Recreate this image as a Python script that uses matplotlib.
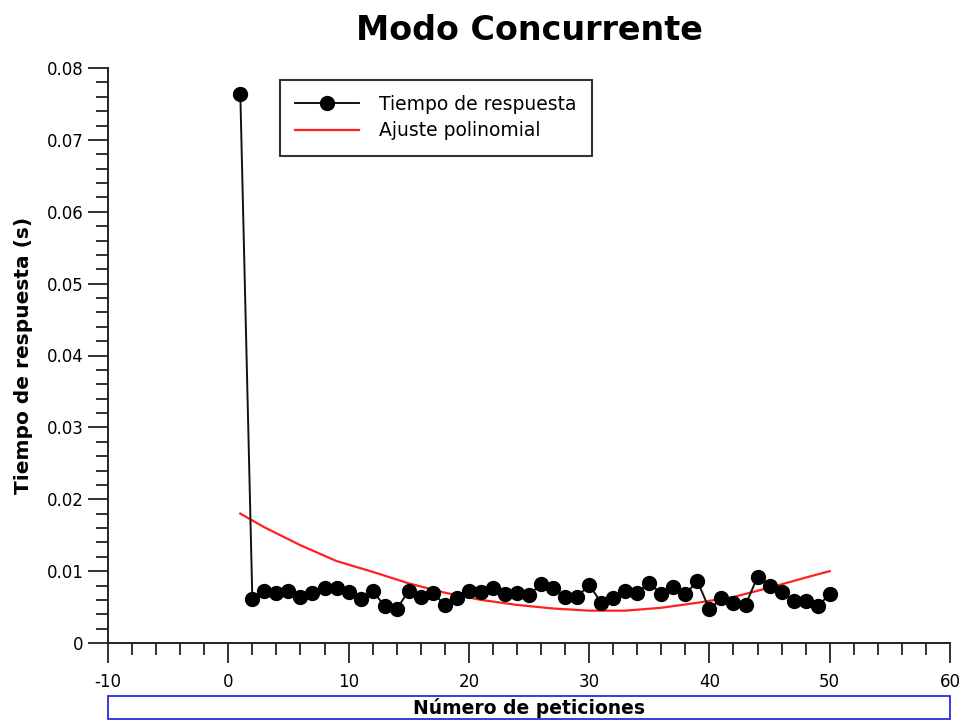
import numpy as np
import matplotlib
matplotlib.use("Agg")
import matplotlib.pyplot as plt
from matplotlib.patches import Rectangle
from matplotlib.ticker import MultipleLocator

plt.rcParams["axes.unicode_minus"] = False

# response time per request (s)
peticiones = list(range(1, 51))
tiempo = [0.0764, 0.0061, 0.0072, 0.0069, 0.0072, 0.0064, 0.0070, 0.0076, 0.0076, 0.0071,
          0.0061, 0.0073, 0.0051, 0.0047, 0.0073, 0.0064, 0.0070, 0.0053, 0.0062, 0.0073,
          0.0071, 0.0076, 0.0068, 0.0069, 0.0067, 0.0082, 0.0077, 0.0064, 0.0064, 0.0081,
          0.0056, 0.0062, 0.0072, 0.0070, 0.0084, 0.0068, 0.0078, 0.0068, 0.0086, 0.0047,
          0.0062, 0.0056, 0.0053, 0.0092, 0.0079, 0.0071, 0.0059, 0.0059, 0.0051, 0.0068]

# polynomial fit curve
ajuste_x = [1, 3, 6, 9, 12, 15, 18, 21, 24, 27, 30, 33, 36, 39, 42, 45, 48, 50]
ajuste_y = [0.0180, 0.0161, 0.0136, 0.0114, 0.0099, 0.0083, 0.0070, 0.0060, 0.0053,
            0.0048, 0.0045, 0.0045, 0.0049, 0.0056, 0.0064, 0.0077, 0.0091, 0.0100]

fig = plt.figure(figsize=(9.6, 7.2), dpi=100)
ax = fig.add_axes([108 / 960, 1 - 643 / 720, (950 - 108) / 960, (643 - 68) / 720])

ax.plot(peticiones, tiempo, color="#111111", lw=1.4, marker="o", ms=10,
        mfc="black", mec="black", label="Tiempo de respuesta", zorder=3)
ax.plot(ajuste_x, ajuste_y, color="#ff2020", lw=1.6, label="Ajuste polinomial", zorder=2)

ax.set_xlim(-10, 60)
ax.set_ylim(0, 0.08)
ax.xaxis.set_major_locator(MultipleLocator(10))
ax.xaxis.set_minor_locator(MultipleLocator(2))
ax.yaxis.set_major_locator(MultipleLocator(0.01))
ax.yaxis.set_minor_locator(MultipleLocator(0.002))
ax.yaxis.set_major_formatter(plt.FuncFormatter(lambda v, p: "0" if v == 0 else f"{v:.2f}"))

for s in ("top", "right"):
    ax.spines[s].set_visible(False)
for s in ("left", "bottom"):
    ax.spines[s].set_linewidth(1.4)
    ax.spines[s].set_color("#222222")

ax.tick_params(which="major", length=14.5, width=1.3, color="#222222",
               labelsize=12, pad=3)
ax.tick_params(axis="x", which="major", pad=7)
ax.tick_params(which="minor", length=8.5, width=1.3, color="#222222")

ax.set_title("Modo Concurrente", fontsize=24, fontweight="bold", pad=20)
ax.set_ylabel("Tiempo de respuesta (s)", fontsize=14.5, fontweight="bold", labelpad=10)

leg = ax.legend(loc="upper left", bbox_to_anchor=(172 / 842, 1 - 12 / 575),
                fontsize=13.5, fancybox=False, framealpha=1, edgecolor="#333333",
                handlelength=3.4, borderpad=0.8, labelspacing=0.4, handletextpad=1.1,
                borderaxespad=0)
leg.get_frame().set_linewidth(1.5)

# x-axis title sits in its own outlined strip below the ticks
fig.patches.append(Rectangle((108 / 960, 1 / 720), (950 - 108) / 960, 23 / 720,
                             transform=fig.transFigure, fill=False,
                             edgecolor="#2a2ae0", lw=1.3))
fig.text(529 / 960, 1 - 708 / 720, "Número de peticiones", ha="center", va="center",
         fontsize=13.5, fontweight="bold")

fig.savefig("out.png", dpi=100)
